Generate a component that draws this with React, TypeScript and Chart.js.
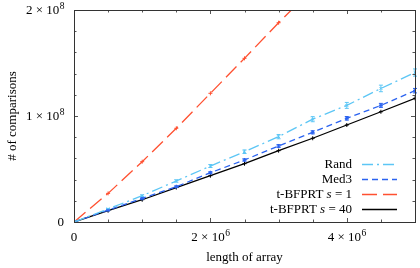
import React, { useEffect, useRef } from "react";
import { Chart, registerables } from "chart.js";

Chart.register(...registerables);

const sizes = [0, 0.5e6, 1e6, 1.5e6, 2e6, 2.5e6, 3e6, 3.5e6, 4e6, 4.5e6, 5e6];
const randVals = [0, 1.23e7, 2.48e7, 3.87e7, 5.28e7, 6.63e7, 8.05e7, 9.7e7, 1.1e8, 1.26e8, 1.41e8];
const randErr = [0, 0.5e6, 0.8e6, 1.1e6, 1.4e6, 1.7e6, 2.0e6, 2.4e6, 2.8e6, 3.1e6, 3.4e6];
const med3Vals = [0, 1.12e7, 2.23e7, 3.33e7, 4.65e7, 5.85e7, 7.17e7, 8.46e7, 9.78e7, 1.1e8, 1.239e8];
const med3Err = [0, 0.3e6, 0.5e6, 0.7e6, 0.9e6, 1.1e6, 1.3e6, 1.5e6, 1.7e6, 1.9e6, 2.1e6];
const bfprt1Vals = [0, 2.7e7, 5.69e7, 8.84e7, 1.214e8, 1.544e8, 1.88e8, 2.2e8, 2.55e8, 2.88e8, 3.22e8];
const bfprt40Vals = [0, 1.07e7, 2.1e7, 3.25e7, 4.37e7, 5.5e7, 6.73e7, 7.9e7, 9.15e7, 1.04e8, 1.167e8];

const xTicks = [0, 2e6, 4e6];
const xTickLabels = [["0", ""], ["2 × 10", "6"], ["4 × 10", "6"]];
const yTicks = [0, 1e8, 2e8];
const yTickLabels = [["0", ""], ["1 × 10", "8"], ["2 × 10", "8"]];
const xMinor = 0.5e6;
const yMinor = 2e7;

const seriesLabels = [
  ["Rand", "", ""],
  ["Med3", "", ""],
  ["t-BFPRT ", "s", " = 1"],
  ["t-BFPRT ", "s", " = 40"],
];
const colors = ["#5cc6f5", "#2b63f0", "#ff5030", "#000000"];
const dashes = [[11, 4, 2, 4], [6, 4], [15, 6], []];

const FONT = '"Liberation Serif", "Times New Roman", serif';

const toXY = (vals: number[]) => vals.map((v, i) => ({ x: sizes[i], y: v }));

const decoPlugin = {
  id: "deco",
  afterDatasetsDraw(chart: any) {
    const ctx = chart.ctx;
    const ys = chart.scales.y;
    ctx.save();
    const errs = [randErr, med3Err];
    [0, 1].forEach((di) => {
      const meta = chart.getDatasetMeta(di);
      const vals = di === 0 ? randVals : med3Vals;
      ctx.strokeStyle = colors[di];
      ctx.lineWidth = 1;
      ctx.setLineDash([]);
      meta.data.forEach((pt: any, i: number) => {
        const e = errs[di][i];
        if (!e) return;
        const y1 = ys.getPixelForValue(vals[i] + e);
        const y2 = ys.getPixelForValue(vals[i] - e);
        const x = pt.x;
        ctx.beginPath();
        ctx.moveTo(x, y1);
        ctx.lineTo(x, y2);
        ctx.moveTo(x - 2, y1);
        ctx.lineTo(x + 2, y1);
        ctx.moveTo(x - 2, y2);
        ctx.lineTo(x + 2, y2);
        ctx.stroke();
      });
    });
    ctx.restore();
  },
  afterDraw(chart: any) {
    const ctx = chart.ctx;
    const { left, right, top, bottom } = chart.chartArea;
    const xs = chart.scales.x;
    const ys = chart.scales.y;
    ctx.save();
    ctx.setLineDash([]);
    ctx.strokeStyle = "#555";
    ctx.lineWidth = 1;
    ctx.beginPath();
    for (let v = 0; v <= 5e6 + 1; v += xMinor) {
      const x = Math.round(xs.getPixelForValue(v)) + 0.5;
      const major = xTicks.some((t) => Math.abs(t - v) < 1);
      const len = major ? 4 : 2.5;
      ctx.moveTo(x, bottom);
      ctx.lineTo(x, bottom - len);
      ctx.moveTo(x, top);
      ctx.lineTo(x, top + len);
    }
    for (let v = 0; v <= 2e8 + 1; v += yMinor) {
      const y = Math.round(ys.getPixelForValue(v)) + 0.5;
      const major = yTicks.some((t) => Math.abs(t - v) < 1);
      const len = major ? 4 : 2.5;
      ctx.moveTo(left, y);
      ctx.lineTo(left + len, y);
      ctx.moveTo(right, y);
      ctx.lineTo(right - len, y);
    }
    ctx.stroke();
    ctx.strokeStyle = "#333";
    ctx.strokeRect(Math.round(left) + 0.5, Math.round(top) + 0.5, Math.round(right - left), Math.round(bottom - top));

    ctx.fillStyle = "#000";
    const drawSup = (base: string, sup: string, x: number, y: number, align: string) => {
      ctx.font = "13px " + FONT;
      const wb = ctx.measureText(base).width;
      ctx.font = "9.5px " + FONT;
      const ws = sup ? ctx.measureText(sup).width : 0;
      const w = wb + ws;
      let x0 = x;
      if (align === "right") x0 = x - w;
      else if (align === "center") x0 = x - w / 2;
      ctx.textAlign = "left";
      ctx.textBaseline = "middle";
      ctx.font = "13px " + FONT;
      ctx.fillText(base, x0, y);
      if (sup) {
        ctx.font = "9.5px " + FONT;
        ctx.fillText(sup, x0 + wb + 0.5, y - 4.5);
      }
    };
    yTicks.forEach((t, i) => {
      drawSup(yTickLabels[i][0], yTickLabels[i][1], left - 10, ys.getPixelForValue(t) + 0.5, "right");
    });
    xTicks.forEach((t, i) => {
      drawSup(xTickLabels[i][0], xTickLabels[i][1], xs.getPixelForValue(t), bottom + 16, "center");
    });

    ctx.font = "13px " + FONT;
    ctx.textAlign = "center";
    ctx.textBaseline = "middle";
    ctx.fillText("length of array", (left + right) / 2, bottom + 36);
    ctx.save();
    ctx.translate(13, (top + bottom) / 2);
    ctx.rotate(-Math.PI / 2);
    ctx.fillText("# of comparisons", 0, 0);
    ctx.restore();

    const textRight = 352;
    const sx1 = 362;
    const sx2 = 397;
    const rowY = [164.5, 179.5, 194.5, 209.5];
    seriesLabels.forEach((parts, i) => {
      const y = rowY[i];
      ctx.font = "13px " + FONT;
      const w0 = ctx.measureText(parts[0]).width;
      const w2 = ctx.measureText(parts[2]).width;
      ctx.font = "italic 13px " + FONT;
      const w1 = parts[1] ? ctx.measureText(parts[1]).width : 0;
      let x = textRight - (w0 + w1 + w2);
      ctx.textAlign = "left";
      ctx.textBaseline = "middle";
      ctx.font = "13px " + FONT;
      ctx.fillText(parts[0], x, y);
      x += w0;
      if (parts[1]) {
        ctx.font = "italic 13px " + FONT;
        ctx.fillText(parts[1], x, y);
        x += w1;
      }
      if (parts[2]) {
        ctx.font = "13px " + FONT;
        ctx.fillText(parts[2], x, y);
      }
      ctx.strokeStyle = colors[i];
      ctx.lineWidth = 1.3;
      ctx.setLineDash(dashes[i]);
      ctx.beginPath();
      ctx.moveTo(sx1, y);
      ctx.lineTo(sx2, y);
      ctx.stroke();
    });
    ctx.restore();
  },
};

export default function App() {
  const ref = useRef<HTMLCanvasElement | null>(null);
  useEffect(() => {
    if (!ref.current) return;
    const series = [randVals, med3Vals, bfprt1Vals, bfprt40Vals];
    const styles = ["crossRot", "star", "cross", "cross"];
    const chart = new Chart(ref.current, {
      type: "line",
      data: {
        datasets: series.map((vals, i) => ({
          label: seriesLabels[i].join(""),
          data: toXY(vals),
          borderColor: colors[i],
          backgroundColor: colors[i],
          borderWidth: 1.3,
          borderDash: dashes[i],
          pointStyle: styles[i] as any,
          pointRadius: 2,
          pointBorderWidth: 1,
          pointBorderColor: colors[i],
          tension: 0,
          fill: false,
        })),
      },
      options: {
        responsive: false,
        animation: false,
        devicePixelRatio: 1,
        layout: { padding: { left: 74, right: 3, top: 10, bottom: 46 } },
        plugins: { legend: { display: false }, tooltip: { enabled: false } },
        scales: {
          x: { type: "linear", min: 0, max: 5e6, display: false },
          y: { type: "linear", min: 0, max: 2e8, display: false },
        },
      },
      plugins: [decoPlugin],
    });
    return () => chart.destroy();
  }, []);
  return (
    <div style={{ position: "fixed", left: 0, top: 0, width: 420, height: 268, background: "#fff" }}>
      <canvas ref={ref} width={420} height={268} style={{ width: 420, height: 268, display: "block" }} />
    </div>
  );
}
